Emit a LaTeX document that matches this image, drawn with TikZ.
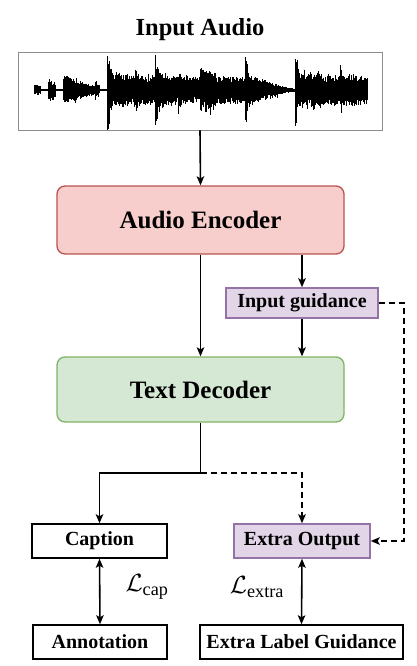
\documentclass[tikz,border=0pt]{standalone}
\usepackage{fontspec}
\setmainfont{Liberation Serif}
\usetikzlibrary{arrows.meta,calc}
\definecolor{pinkF}{HTML}{F8CECC}
\definecolor{pinkD}{HTML}{B85450}
\definecolor{greenF}{HTML}{D5E8D4}
\definecolor{greenD}{HTML}{82B366}
\definecolor{purF}{HTML}{E1D5E7}
\definecolor{purD}{HTML}{9673A6}
\tikzset{
  bigbox/.style={rounded corners=8pt, line width=1.3pt, minimum width=287pt, inner sep=0pt,
     font=\fontsize{25}{30}\selectfont\bfseries},
  smallbox/.style={draw=black, fill=white, line width=1.5pt, minimum height=34pt, inner sep=0pt,
     font=\fontsize{20}{24}\selectfont\bfseries},
  purbox/.style={smallbox, draw=purD, fill=purF},
  arr/.style={line width=1.6pt, -{Stealth[length=9pt,width=7.5pt,inset=2pt]}},
  dbl/.style={line width=1.6pt, {Stealth[length=9pt,width=7.5pt,inset=2pt]}-{Stealth[length=9pt,width=7.5pt,inset=2pt]}},
  plain/.style={line width=1.6pt},
  dsh/.style={dash pattern=on 6pt off 4pt},
  wave/.style={line width=0.8pt, black},
  losslbl/.style={font=\fontsize{26}{30}\selectfont, inner sep=0pt}
}
\begin{document}
\begin{tikzpicture}[x=1pt,y=-1pt]
\useasboundingbox (0,0) rectangle (416,666);
\fill[white] (0,0) rectangle (416,666);
% title and waveform box
\node[font=\fontsize{24.5}{28}\selectfont\bfseries, inner sep=0pt] (title) at (200,30) {Input Audio};
\node[draw=black!45, line width=0.8pt, minimum width=364pt, minimum height=78pt, inner sep=0pt] (wave) at (200,91) {};
\pgfmathsetseed{11}
\draw[line width=1.2pt] (34,90) -- (367,90);
\foreach \xa/\xb/\aa/\ab in {
 34/40/5/5, 40/48/0.8/0.8, 48/55/11/8, 55/63/0.8/0.8, 63/95/14/4, 95/99/10/5, 99/107/1/1,
 107/109/36/32, 109/112/26/20, 112/135/18/13, 135/138/22/15, 138/145/16/12, 145/155/15/13,
 155/157/36/30, 157/160/24/18, 160/178/16/13, 178/181/21/15, 181/200/14/12, 200/215/21/18,
 215/245/14/12, 245/247/34/28, 247/250/20/15, 250/290/14/2, 290/295/2/2,
 295/297/36/30, 297/300/24/18, 300/340/18/14, 340/343/24/17, 343/367/16/14}{
  \pgfmathtruncatemacro\n{(\xb-\xa)*2}
  \foreach \k in {0,...,\n}{
    \pgfmathsetmacro\xx{\xa+\k/2}
    \pgfmathsetmacro\am{\aa+(\ab-\aa)*\k/\n}
    \pgfmathsetmacro\up{\am*(0.5+0.5*rnd+0.35*rnd*rnd*rnd)}
    \pgfmathsetmacro\dn{\am*(0.5+0.55*rnd+0.4*rnd*rnd*rnd)}
    \draw[wave] (\xx,90-\up) -- (\xx,90+\dn);
  }
}
% main boxes
\node[bigbox, draw=pinkD, fill=pinkF, minimum height=68pt] (AE) at (200.5,220) {Audio Encoder};
\node[purbox, minimum width=152pt, minimum height=30pt] (IG) at (302,303) {Input guidance};
\node[bigbox, draw=greenD, fill=greenF, minimum height=65pt] (TD) at (200.5,389.5) {Text Decoder};
\node[smallbox, minimum width=135pt] (Cap) at (99.5,541) {Caption};
\node[purbox, minimum width=136pt] (EO) at (302,541) {Extra Output};
\node[smallbox, minimum width=134pt] (Ann) at (100,642) {Annotation};
\node[smallbox, minimum width=203pt] (ELG) at (301.5,642) {Extra Label Guidance};
\node[losslbl] (Lcap) at (147,587) {$\mathcal{L}_{\mathrm{cap}}$};
\node[losslbl] (Lext) at (257,587) {$\mathcal{L}_{\mathrm{extra}}$};
% connectors
\draw[arr] (wave.south) -- (AE.north);
\draw[arr] (AE.south) -- (TD.north);
\draw[arr] (IG.north |- AE.south) -- (IG.north);
\draw[arr] (IG.south) -- (IG.south |- TD.north);
\draw[arr, dsh] (IG.east) -- (IG.east -| ELG.east) |- (EO.east);
\coordinate (split) at (200.5,473);
\draw[plain] (TD.south) -- (split);
\draw[arr] (split) -| (Cap.north);
\draw[arr, dsh] (split) -| (EO.north);
\draw[dbl] (Cap.south) -- (Ann.north);
\draw[dbl] (EO.south) -- (ELG.north);
\end{tikzpicture}
\end{document}
